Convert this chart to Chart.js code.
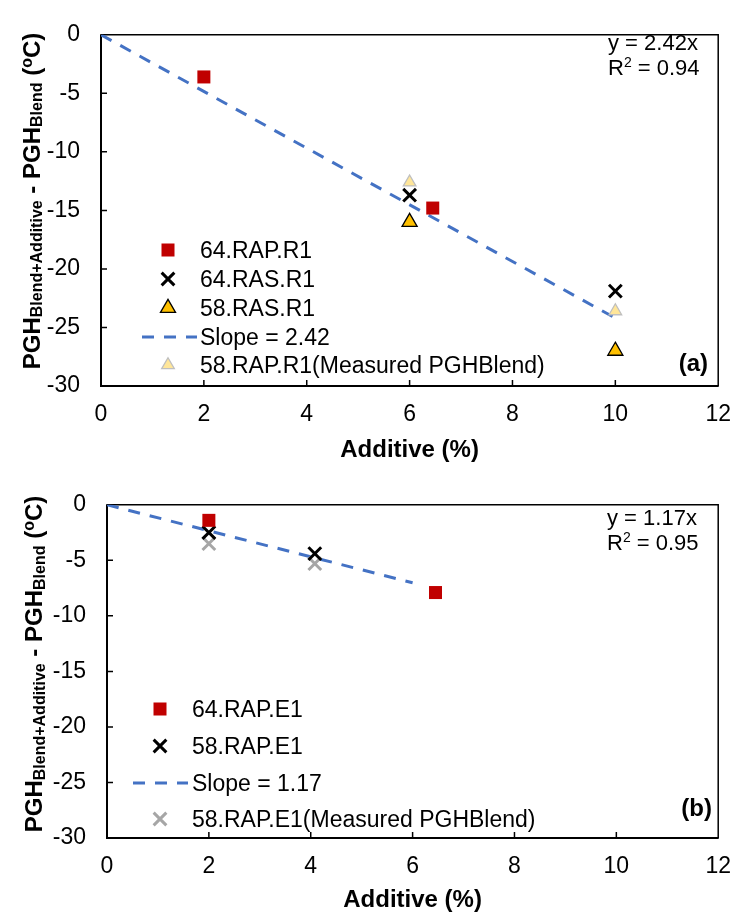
<!DOCTYPE html>
<html>
<head>
<meta charset="utf-8">
<script src="https://cdn.jsdelivr.net/npm/chart.js@4.4.0/dist/chart.umd.min.js"></script>
<style>
  html, body { margin: 0; padding: 0; background: #fff; }
  #wrap { position: relative; width: 746px; height: 916px; }
  canvas { position: absolute; left: 0; }
  #chartA { top: 0; }
  #chartB { top: 470px; }
</style>
</head>
<body>
<div id="wrap">
  <canvas id="chartA" width="746" height="470"></canvas>
  <canvas id="chartB" width="746" height="446"></canvas>
</div>
<script>
const additiveTicks = [0, 2, 4, 6, 8, 10, 12];
const deltaTicks = [0, -5, -10, -15, -20, -25, -30];

// panel (a) - R1 binders
const rap64R1Additive = [2, 6.45];
const rap64R1Delta = [-3.6, -14.8];
const ras64R1Additive = [6, 10];
const ras64R1Delta = [-13.7, -21.9];
const ras58R1Additive = [6, 10];
const ras58R1Delta = [-16.0, -27.0];
const rap58R1Additive = [6, 10];
const rap58R1Delta = [-12.6, -23.6];
const fitAAdditive = [0, 10];
const fitADelta = [0, -24.2];

// panel (b) - E1 binders
const rap64E1Additive = [2, 6.45];
const rap64E1Delta = [-1.4, -7.9];
const rap58E1Additive = [2, 4.08];
const rap58E1Delta = [-2.5, -4.4];
const rap58E1MeasAdditive = [2, 4.08];
const rap58E1MeasDelta = [-3.5, -5.3];
const fitBAdditive = [0, 6];
const fitBDelta = [0, -7.02];

const FONT = '"Liberation Sans", Arial, Helvetica, sans-serif';
Chart.defaults.font.family = FONT;
Chart.defaults.color = "#000";

const pts = (xs, ys) => xs.map((x, i) => ({ x, y: ys[i] }));

const styles = {
  redSquare: { pointStyle: "rect", pointRadius: 9.2, pointBackgroundColor: "#C00000", pointBorderColor: "#C00000", pointBorderWidth: 0 },
  blackCross: { pointStyle: "crossRot", pointRadius: 9, pointBackgroundColor: "#000", pointBorderColor: "#000", pointBorderWidth: 3 },
  grayCross: { pointStyle: "crossRot", pointRadius: 9, pointBackgroundColor: "#A6A6A6", pointBorderColor: "#A6A6A6", pointBorderWidth: 3 },
  orangeTri: { pointStyle: "triangle", pointRadius: 8.7, pointBackgroundColor: "#FFC000", pointBorderColor: "#000", pointBorderWidth: 1.3 },
  lightTri: { pointStyle: "triangle", pointRadius: 7.3, pointBackgroundColor: "#FFE699", pointBorderColor: "#BFBFBF", pointBorderWidth: 1.3 },
};

function markerSet(label, xs, ys, style) {
  return Object.assign({ label, data: pts(xs, ys), showLine: false, order: 1, clip: false }, style);
}

function fitSet(label, xs, ys) {
  return {
    label,
    data: pts(xs, ys),
    showLine: true,
    borderColor: "#4472C4",
    borderWidth: 3,
    borderDash: [12, 10],
    pointRadius: 0,
    fill: false,
    order: 5,
  };
}

function drawRich(ctx, parts, x, baseline) {
  let cx = x;
  parts.forEach((p) => {
    ctx.font = p.font;
    ctx.fillText(p.text, cx, baseline + (p.dy || 0));
    cx += ctx.measureText(p.text).width;
  });
  return cx;
}

function richWidth(ctx, parts) {
  return parts.reduce((w, p) => {
    ctx.font = p.font;
    return w + ctx.measureText(p.text).width;
  }, 0);
}

function decorPlugin(cfg) {
  return {
    id: "panelDecor",
    beforeDatasetsDraw(chart) {
      const { ctx, chartArea: a, scales } = chart;
      ctx.save();
      ctx.strokeStyle = "#000";
      // outer frame
      ctx.lineWidth = 1.5;
      ctx.beginPath();
      ctx.moveTo(a.left, a.top);
      ctx.lineTo(a.right, a.top);
      ctx.lineTo(a.right, a.bottom);
      ctx.stroke();
      ctx.lineWidth = 2;
      ctx.beginPath();
      ctx.moveTo(a.left, a.top - 0.5);
      ctx.lineTo(a.left, a.bottom);
      ctx.lineTo(a.right + 0.5, a.bottom);
      ctx.stroke();

      // tick marks point into the plot
      ctx.lineWidth = 1.5;
      ctx.beginPath();
      scales.y.ticks.forEach((t, i, arr) => {
        if (i === 0 || i === arr.length - 1) return;
        const py = scales.y.getPixelForValue(t.value);
        ctx.moveTo(a.left, py);
        ctx.lineTo(a.left + 6, py);
      });
      scales.x.ticks.forEach((t, i, arr) => {
        if (i === 0 || i === arr.length - 1) return;
        const px = scales.x.getPixelForValue(t.value);
        ctx.moveTo(px, a.bottom);
        ctx.lineTo(px, a.bottom - 6);
      });
      ctx.stroke();
      ctx.restore();
    },
    afterDraw(chart) {
      const { ctx } = chart;
      ctx.save();
      ctx.fillStyle = "#000";
      ctx.textBaseline = "alphabetic";
      ctx.textAlign = "left";

      // rotated y title with subscripts
      const big = "bold 24px " + FONT;
      const small = "bold 16px " + FONT;
      const yTitle = [
        { text: "PGH", font: big },
        { text: "Blend+Additive", font: small, dy: cfg.subShift },
        { text: " - PGH", font: big },
        { text: "Blend", font: small, dy: cfg.subShift },
        { text: " (", font: big },
        { text: "o", font: "bold 16px " + FONT, dy: -8 },
        { text: "C)", font: big },
      ];
      const tw = richWidth(ctx, yTitle);
      ctx.save();
      ctx.translate(cfg.titleBase, cfg.titleMid);
      ctx.rotate(-Math.PI / 2);
      drawRich(ctx, yTitle, -tw / 2, 0);
      ctx.restore();

      // legend
      cfg.legend.rows.forEach((idx, r) => {
        const ds = chart.data.datasets[idx];
        const y = cfg.legend.rowY[r];
        if (ds.showLine) {
          ctx.save();
          ctx.strokeStyle = ds.borderColor;
          ctx.lineWidth = ds.borderWidth;
          ctx.setLineDash(ds.borderDash);
          ctx.beginPath();
          ctx.moveTo(cfg.legend.lineFrom, y);
          ctx.lineTo(cfg.legend.lineTo, y);
          ctx.stroke();
          ctx.restore();
        } else {
          ctx.save();
          ctx.fillStyle = ds.pointBackgroundColor;
          ctx.strokeStyle = ds.pointBorderColor;
          ctx.lineWidth = ds.pointBorderWidth;
          Chart.helpers.drawPoint(ctx, {
            pointStyle: ds.pointStyle,
            radius: ds.pointRadius,
            rotation: 0,
            borderWidth: ds.pointBorderWidth,
          }, cfg.legend.markX, y);
          ctx.restore();
        }
        ctx.font = "23px " + FONT;
        ctx.fillText(ds.label, cfg.legend.textX, y + 8.2);
      });

      // fitted equation
      const eq = "22px " + FONT;
      ctx.font = eq;
      ctx.fillText(cfg.eq.line1, cfg.eq.x, cfg.eq.base1);
      drawRich(ctx, [
        { text: "R", font: eq },
        { text: "2", font: "14px " + FONT, dy: -8 },
        { text: " = " + cfg.eq.r2, font: eq },
      ], cfg.eq.x, cfg.eq.base2);

      // panel tag
      ctx.font = "bold 24px " + FONT;
      ctx.textAlign = "right";
      ctx.fillText(cfg.tag.text, cfg.tag.x, cfg.tag.base);
      ctx.restore();
    },
  };
}

function buildPanel(canvasId, datasets, cfg) {
  return new Chart(document.getElementById(canvasId), {
    type: "scatter",
    data: { datasets },
    options: {
      responsive: false,
      animation: false,
      events: [],
      layout: { padding: { left: 0, top: cfg.top, right: 746 - cfg.right, bottom: 0 } },
      plugins: { legend: { display: false }, tooltip: { enabled: false } },
      scales: {
        x: {
          type: "linear",
          min: 0,
          max: 12,
          afterBuildTicks: (s) => { s.ticks = additiveTicks.map((v) => ({ value: v })); },
          ticks: { color: "#000", font: { size: 23 }, padding: 15 },
          grid: { display: false, drawTicks: false },
          border: { display: false },
          title: {
            display: true,
            text: "Additive (%)",
            color: "#000",
            font: { size: 24, weight: "bold" },
            padding: { top: 0, bottom: cfg.xTitlePad },
          },
          afterFit: (s) => { s.height = cfg.height - cfg.bottom; },
        },
        y: {
          type: "linear",
          min: -30,
          max: 0,
          afterBuildTicks: (s) => { s.ticks = deltaTicks.map((v) => ({ value: v })); },
          ticks: { color: "#000", font: { size: 23 }, padding: 21 },
          grid: { display: false, drawTicks: false },
          border: { display: false },
          afterFit: (s) => { s.width = cfg.left; },
        },
      },
    },
    plugins: [decorPlugin(cfg)],
  });
}

const datasetsA = [
  markerSet("64.RAP.R1", rap64R1Additive, rap64R1Delta, styles.redSquare),
  markerSet("64.RAS.R1", ras64R1Additive, ras64R1Delta, styles.blackCross),
  markerSet("58.RAS.R1", ras58R1Additive, ras58R1Delta, styles.orangeTri),
  fitSet("Slope = 2.42", fitAAdditive, fitADelta),
  markerSet("58.RAP.R1(Measured PGHBlend)", rap58R1Additive, rap58R1Delta, styles.lightTri),
];

const datasetsB = [
  markerSet("64.RAP.E1", rap64E1Additive, rap64E1Delta, styles.redSquare),
  markerSet("58.RAP.E1", rap58E1Additive, rap58E1Delta, styles.blackCross),
  fitSet("Slope = 1.17", fitBAdditive, fitBDelta),
  markerSet("58.RAP.E1(Measured PGHBlend)", rap58E1MeasAdditive, rap58E1MeasDelta, styles.grayCross),
];

buildPanel("chartA", datasetsA, {
  height: 470, left: 101, right: 727, top: 17, bottom: 386, xTitlePad: 5.6,
  titleBase: 39.5, titleMid: 201, subShift: 2.5,
  legend: { rows: [0, 1, 2, 3, 4], rowY: [250, 279, 308, 337, 365], markX: 168, lineFrom: 142, lineTo: 197, textX: 200 },
  eq: { line1: "y = 2.42x", r2: "0.94", x: 608, base1: 50, base2: 75 },
  tag: { text: "(a)", x: 708, base: 370.5 },
});

buildPanel("chartB", datasetsB, {
  height: 446, left: 107, right: 732, top: 19, bottom: 368, xTitlePad: 1.6,
  titleBase: 41.7, titleMid: 194, subShift: 3.3,
  legend: { rows: [0, 1, 2, 3], rowY: [239, 276, 313, 349], markX: 160, lineFrom: 133, lineTo: 188, textX: 192 },
  eq: { line1: "y = 1.17x", r2: "0.95", x: 607, base1: 55, base2: 80 },
  tag: { text: "(b)", x: 712, base: 345.5 },
});
</script>
</body>
</html>
